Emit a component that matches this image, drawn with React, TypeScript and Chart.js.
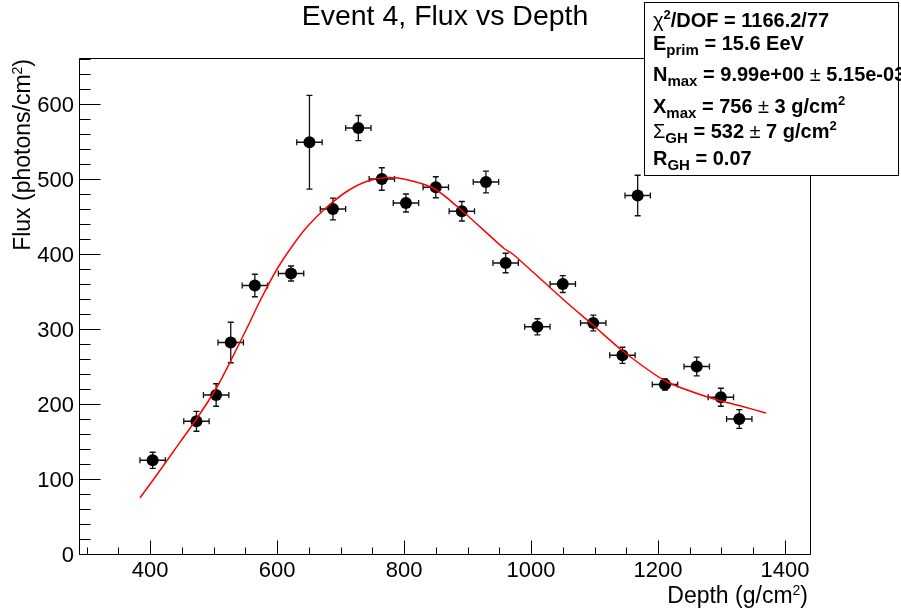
import React, { useEffect, useRef } from "react";
import { Chart, registerables } from "chart.js";

Chart.register(...registerables);

// ---- data ----
const depth = [404, 473, 504, 527, 565, 622, 651, 688, 728, 765, 803, 850, 891, 929, 960, 1010, 1050, 1098, 1144, 1168, 1211, 1261, 1299, 1328];
const flux = [125, 177, 212, 282, 358, 374, 549, 460, 568, 500, 468, 489, 457, 496, 388, 303, 360, 308, 265, 478, 226, 250, 209, 180];
const fluxErr = [10.7, 13.3, 15, 27, 15, 10, 62.5, 14.5, 16.7, 15, 12, 14, 13, 14.5, 13, 10.7, 11.3, 10.5, 10.7, 27, 7.6, 12.4, 12, 12.4];
const depthErr = [20, 20, 20, 20, 20, 20, 20, 20, 20, 20, 20, 20, 20, 20, 20, 20, 20, 20, 20, 20, 20, 20, 20, 20];

const fitDepth = [384, 405, 437, 473, 505, 526, 553, 574, 600, 626, 648, 679, 711, 742, 774, 805, 848, 891, 958, 971, 1016, 1058, 1098, 1144, 1211, 1279, 1332, 1370];
const fitFlux = [75, 99, 137, 180, 222, 256, 302, 339, 380, 413, 437, 463, 484, 497, 502, 499, 487, 458, 407, 400, 366, 334, 305, 271, 231, 209, 197, 188];

const xMajorTicks = [400, 600, 800, 1000, 1200, 1400];
const yMajorTicks = [0, 100, 200, 300, 400, 500, 600];
const xMinorStep = 50;
const yMinorStep = 20;
const xRange = [288, 1441];
const yRange = [0, 660];

const titleText = "Event 4, Flux vs Depth";
const xTitle = "Depth (g/cm";
const yTitle = "Flux (photons/cm";

const FONT = '"Liberation Sans", Arial, Helvetica, sans-serif';

type Seg = { t: string; size: number; bold?: boolean; dy?: number };

function segWidth(ctx: CanvasRenderingContext2D, s: Seg) {
  ctx.font = `${s.bold ? "bold " : ""}${s.size}px ${FONT}`;
  return ctx.measureText(s.t).width;
}

function drawRich(ctx: CanvasRenderingContext2D, segs: Seg[], x: number, y: number, align: "left" | "right" | "center") {
  const widths = segs.map((s) => segWidth(ctx, s));
  const total = widths.reduce((a, b) => a + b, 0);
  let cx = align === "left" ? x : align === "right" ? x - total : x - total / 2;
  ctx.textAlign = "left";
  ctx.textBaseline = "alphabetic";
  segs.forEach((s, i) => {
    ctx.font = `${s.bold ? "bold " : ""}${s.size}px ${FONT}`;
    ctx.fillText(s.t, cx, y + (s.dy || 0));
    cx += widths[i];
  });
}

const decorPlugin = {
  id: "rootDecor",
  beforeDatasetsDraw(chart: any) {
    const ctx: CanvasRenderingContext2D = chart.ctx;
    const xs = chart.scales.x;
    const ys = chart.scales.y;
    ctx.save();
    ctx.strokeStyle = "#111";
    ctx.lineWidth = 1.3;
    for (let i = 0; i < depth.length; i++) {
      const px = xs.getPixelForValue(depth[i]);
      const py = ys.getPixelForValue(flux[i]);
      const x0 = xs.getPixelForValue(depth[i] - depthErr[i]);
      const x1 = xs.getPixelForValue(depth[i] + depthErr[i]);
      const y0 = ys.getPixelForValue(flux[i] - fluxErr[i]);
      const y1 = ys.getPixelForValue(flux[i] + fluxErr[i]);
      ctx.beginPath();
      ctx.moveTo(x0, py);
      ctx.lineTo(x1, py);
      ctx.moveTo(x0, py - 3);
      ctx.lineTo(x0, py + 3);
      ctx.moveTo(x1, py - 3);
      ctx.lineTo(x1, py + 3);
      ctx.moveTo(px, y0);
      ctx.lineTo(px, y1);
      ctx.moveTo(px - 3, y0);
      ctx.lineTo(px + 3, y0);
      ctx.moveTo(px - 3, y1);
      ctx.lineTo(px + 3, y1);
      ctx.stroke();
    }
    ctx.restore();
  },
  afterDraw(chart: any) {
    const ctx: CanvasRenderingContext2D = chart.ctx;
    const xs = chart.scales.x;
    const ys = chart.scales.y;
    const a = chart.chartArea;
    ctx.save();
    ctx.fillStyle = "#000";
    ctx.strokeStyle = "#000";
    ctx.lineWidth = 1;

    const L = Math.round(a.left) + 0.5;
    const R = Math.round(a.right) - 0.5;
    const T = Math.round(a.top) - 0.5;
    const B = Math.round(a.bottom) + 0.5;
    ctx.beginPath();
    ctx.rect(L, T, R - L, B - T);
    ctx.stroke();

    // y ticks
    ctx.beginPath();
    for (let v = yRange[0]; v <= yRange[1] + 1e-6; v += yMinorStep) {
      const py = Math.round(ys.getPixelForValue(v)) + 0.5;
      const major = yMajorTicks.indexOf(v) >= 0;
      ctx.moveTo(L, py);
      ctx.lineTo(L + (major ? 21 : 11), py);
    }
    // x ticks
    const xStart = Math.ceil(xRange[0] / xMinorStep) * xMinorStep;
    for (let v = xStart; v <= xRange[1]; v += xMinorStep) {
      const px = Math.round(xs.getPixelForValue(v)) + 0.5;
      const major = xMajorTicks.indexOf(v) >= 0;
      ctx.moveTo(px, B);
      ctx.lineTo(px, B - (major ? 14 : 7));
    }
    ctx.stroke();

    // tick labels
    ctx.font = `22px ${FONT}`;
    ctx.textAlign = "right";
    ctx.textBaseline = "alphabetic";
    yMajorTicks.forEach((v) => {
      ctx.fillText(String(v), 74, ys.getPixelForValue(v) + 8);
    });
    ctx.textAlign = "center";
    xMajorTicks.forEach((v) => {
      ctx.fillText(String(v), xs.getPixelForValue(v), 577);
    });

    // title
    ctx.font = `28.5px ${FONT}`;
    ctx.textAlign = "center";
    ctx.fillText(titleText, 445, 25);

    // x axis title
    drawRich(ctx, [
      { t: xTitle, size: 23 },
      { t: "2", size: 14, dy: -8 },
      { t: ")", size: 23 },
    ], 808, 603, "right");

    // y axis title (rotated)
    ctx.save();
    ctx.translate(30, 59);
    ctx.rotate(-Math.PI / 2);
    drawRich(ctx, [
      { t: yTitle, size: 23 },
      { t: "2", size: 14, dy: -8 },
      { t: ")", size: 23 },
    ], 0, 0, "right");
    ctx.restore();

    // stats box
    ctx.fillStyle = "#fff";
    ctx.fillRect(644, 2, 255, 174);
    ctx.strokeStyle = "#000";
    ctx.lineWidth = 1;
    ctx.strokeRect(644.5, 2.5, 254, 173);
    ctx.fillStyle = "#000";
    const big = 20;
    const sub = 15;
    const sup = 13;
    const lines: Seg[][] = [
      [{ t: "\u03c7", size: big }, { t: "2", size: sup, bold: true, dy: -8 }, { t: "/DOF = 1166.2/77", size: big, bold: true }],
      [{ t: "E", size: big, bold: true }, { t: "prim", size: sub, bold: true, dy: 5 }, { t: " = 15.6 EeV", size: big, bold: true }],
      [{ t: "N", size: big, bold: true }, { t: "max", size: sub, bold: true, dy: 5 }, { t: " = 9.99e+00 ", size: big, bold: true }, { t: "\u00b1", size: big }, { t: " 5.15e-03", size: big, bold: true }],
      [{ t: "X", size: big, bold: true }, { t: "max", size: sub, bold: true, dy: 5 }, { t: " = 756 ", size: big, bold: true }, { t: "\u00b1", size: big }, { t: " 3 g/cm", size: big, bold: true }, { t: "2", size: sup, bold: true, dy: -8 }],
      [{ t: "\u03a3", size: big }, { t: "GH", size: sub, bold: true, dy: 5 }, { t: " = 532 ", size: big, bold: true }, { t: "\u00b1", size: big }, { t: " 7 g/cm", size: big, bold: true }, { t: "2", size: sup, bold: true, dy: -8 }],
      [{ t: "R", size: big, bold: true }, { t: "GH", size: sub, bold: true, dy: 5 }, { t: " = 0.07", size: big, bold: true }],
    ];
    const baselines = [27, 50, 81, 113, 138, 165];
    lines.forEach((ln, i) => drawRich(ctx, ln, 653, baselines[i], "left"));

    ctx.restore();
  },
};

export default function App() {
  const ref = useRef<HTMLCanvasElement | null>(null);
  useEffect(() => {
    if (!ref.current) return;
    const chart = new Chart(ref.current, {
      type: "scatter",
      data: {
        datasets: [
          {
            label: "fit",
            data: fitDepth.map((x, i) => ({ x, y: fitFlux[i] })),
            showLine: true,
            borderColor: "#ff0000",
            borderWidth: 1.5,
            pointRadius: 0,
            fill: false,
            tension: 0.25,
          } as any,
          {
            label: "data",
            data: depth.map((x, i) => ({ x, y: flux[i] })),
            showLine: false,
            pointRadius: 6,
            pointBackgroundColor: "#000",
            pointBorderColor: "#000",
            pointBorderWidth: 0,
          } as any,
        ],
      },
      options: {
        animation: false,
        responsive: false,
        events: [],
        layout: { padding: { left: 0, top: 59, right: 90, bottom: 0 } },
        plugins: { legend: { display: false }, tooltip: { enabled: false }, title: { display: false } },
        scales: {
          x: {
            type: "linear",
            min: xRange[0],
            max: xRange[1],
            grid: { display: false },
            border: { display: false },
            ticks: { display: false },
            afterFit: (s: any) => { s.height = 61; },
          },
          y: {
            type: "linear",
            min: yRange[0],
            max: yRange[1],
            grid: { display: false },
            border: { display: false },
            ticks: { display: false },
            afterFit: (s: any) => { s.width = 79; },
          },
        },
      } as any,
      plugins: [decorPlugin],
    });
    return () => chart.destroy();
  }, []);
  return (
    <div style={{ position: "fixed", left: 0, top: 0, width: 901, height: 615, background: "#fff" }}>
      <canvas ref={ref} width={901} height={615} style={{ display: "block", width: 901, height: 615 }} />
    </div>
  );
}
